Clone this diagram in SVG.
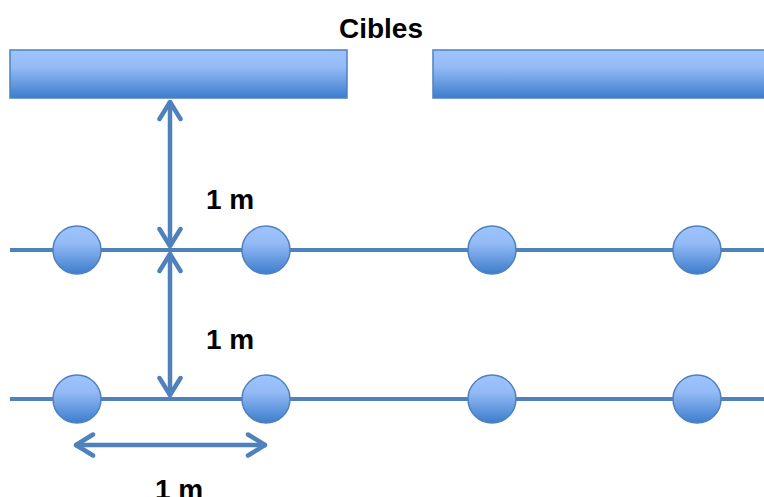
<svg xmlns="http://www.w3.org/2000/svg" width="764" height="497" viewBox="0 0 764 497">
<defs>
<linearGradient id="g" x1="0" y1="0" x2="0" y2="1">
<stop offset="0" stop-color="#9ec4ff"/>
<stop offset="0.35" stop-color="#94bbf6"/>
<stop offset="1" stop-color="#3d7dcc"/>
</linearGradient>
<marker id="ah" viewBox="0 0 24 26" refX="21" refY="13" markerWidth="24" markerHeight="26" markerUnits="userSpaceOnUse" orient="auto-start-reverse">
<path d="M3,2.5 L20,13 L3,23.5" fill="none" stroke="#4f81bd" stroke-width="4.5" stroke-linecap="round" stroke-linejoin="round"/>
</marker>
</defs>
<style>
.box{fill:url(#g);stroke:#4f81bd;stroke-width:1.5}
.line{stroke:#4f81bd;stroke-width:4;fill:none}
.arr{stroke:#4f81bd;stroke-width:4.5;fill:none;marker-start:url(#ah);marker-end:url(#ah)}
.lbl{font-family:"Liberation Sans",Arial,sans-serif;font-weight:bold;font-size:28px;fill:#000}
</style>
<text class="lbl" x="381" y="38" text-anchor="middle">Cibles</text>
<g id="target-left"><rect class="box" x="10" y="50" width="337" height="48"/></g>
<g id="target-right"><rect class="box" x="433" y="50" width="335" height="48"/></g>
<g id="connectors">
<line class="line" x1="10" y1="250" x2="764" y2="250"/>
<line class="line" x1="10" y1="399" x2="764" y2="399"/>
<line class="arr" x1="170" y1="101" x2="170" y2="247"/>
<line class="arr" x1="170" y1="253" x2="170" y2="396"/>
<line class="arr" x1="75" y1="445" x2="266" y2="445"/>
</g>
<g id="row1">
<circle class="box" cx="77" cy="250" r="24"/>
<circle class="box" cx="266" cy="250" r="24"/>
<circle class="box" cx="492" cy="250" r="24"/>
<circle class="box" cx="697" cy="250" r="24"/>
</g>
<g id="row2">
<circle class="box" cx="77" cy="399" r="24"/>
<circle class="box" cx="266" cy="399" r="24"/>
<circle class="box" cx="492" cy="399" r="24"/>
<circle class="box" cx="697" cy="399" r="24"/>
</g>
<text class="lbl" x="206" y="209">1 m</text>
<text class="lbl" x="206" y="349">1 m</text>
<text class="lbl" x="155" y="499">1 m</text>
</svg>
